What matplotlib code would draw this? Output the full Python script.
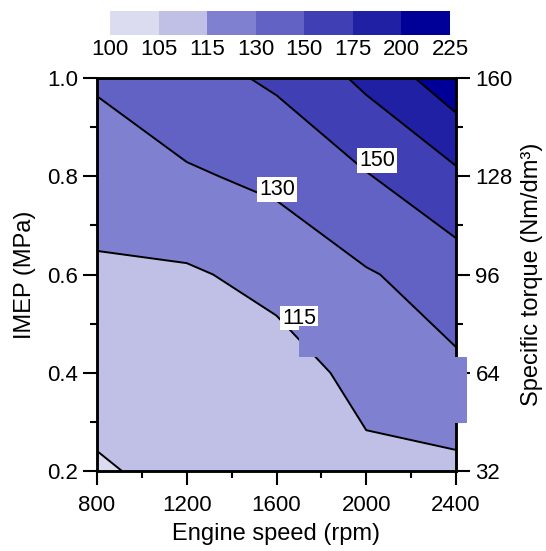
import matplotlib
matplotlib.use("Agg")
import matplotlib.pyplot as plt
from matplotlib.patches import Rectangle
from matplotlib.ticker import MultipleLocator
import numpy as np

plt.rcParams['font.family'] = ['Liberation Sans', 'DejaVu Sans']

# ---- data ----
speed = [800, 1200, 1600, 2000, 2400]          # rpm
imep = [0.2, 0.4, 0.6, 0.8, 1.0]               # MPa
# rows: imep, columns: speed
z_row_02 = [104.0, 107.6, 108.0, 112.3, 111.7]
z_row_04 = [108.9, 111.0, 109.3, 118.8, 127.1]
z_row_06 = [112.0, 113.3, 119.1, 128.5, 138.2]
z_row_08 = [124.5, 128.0, 133.6, 148.5, 170.1]
z_row_10 = [131.25, 141.8, 153.5, 180.5, 216.4]
levels = [100, 105, 115, 130, 150, 175, 200, 225]
band_colors = ['#DCDCF0', '#C0C0E6', '#8080D0', '#6262C4', '#4040B4', '#2020A5', '#000099']
line_labels = ['115', '130', '150']
label_pos_speed = [1700, 1602, 2048]
label_pos_imep = [0.511, 0.773, 0.832]
torque_ticks = [32, 64, 96, 128, 160]

Z = np.array([z_row_02, z_row_04, z_row_06, z_row_08, z_row_10])
X, Y = np.meshgrid(speed, imep)

W, H = 546, 551
fig = plt.figure(figsize=(W / 100, H / 100), dpi=100)
L, R, T, B = 97, 456, 78, 471
ax = fig.add_axes([L / W, 1 - B / H, (R - L) / W, (B - T) / H])

cf = ax.contourf(X, Y, Z, levels=levels, colors=band_colors)
ax.contour(X, Y, Z, levels=levels, colors='k', linewidths=1.4)

for t, xs, ys in zip(line_labels, label_pos_speed, label_pos_imep):
    ax.text(xs, ys, t, fontsize=15.5, ha='center', va='center', zorder=5,
            bbox=dict(facecolor='white', edgecolor='none', pad=1.2))

ax.set_xlim(800, 2400)
ax.set_ylim(0.2, 1.0)
ax.set_xticks([800, 1200, 1600, 2000, 2400])
ax.set_yticks([0.2, 0.4, 0.6, 0.8, 1.0])
ax.set_yticklabels(['0.2', '0.4', '0.6', '0.8', '1.0'])
ax.xaxis.set_minor_locator(MultipleLocator(200))
ax.yaxis.set_minor_locator(MultipleLocator(0.1))
ax.tick_params(axis='x', which='major', pad=7)
ax.tick_params(which='major', direction='out', length=10, width=1.5, labelsize=16)
ax.tick_params(which='minor', direction='out', length=5, width=1.5)
for s in ax.spines.values():
    s.set_linewidth(1.8)
ax.set_xlabel('Engine speed (rpm)', fontsize=17, labelpad=5)
ax.set_ylabel('IMEP (MPa)', fontsize=17, labelpad=8)

ax2 = ax.twinx()
ax2.set_ylim(32, 160)
ax2.set_yticks(torque_ticks)
ax2.yaxis.set_minor_locator(MultipleLocator(16))
ax2.tick_params(which='major', direction='out', length=10, width=1.5, labelsize=16, pad=4)
ax2.tick_params(which='minor', direction='out', length=5, width=1.5)
for s in ax2.spines.values():
    s.set_linewidth(1.8)
ax2.set_ylabel('Specific torque (Nm/dm³)', fontsize=17, labelpad=6)

# colorbar on top
cax = fig.add_axes([110 / W, 1 - 35 / H, 340 / W, 24 / H])
cb = fig.colorbar(cf, cax=cax, orientation='horizontal', spacing='uniform')
cb.set_ticks(levels)
cb.set_ticklabels([str(v) for v in levels])
cb.outline.set_visible(False)
cax.tick_params(length=0, labelsize=16, pad=3)

# raster artefacts of the original picture
for (x0, y0, x1, y1) in [(299, 326, 400, 357), (430, 357, 467, 423)]:
    fig.add_artist(Rectangle((x0 / W, 1 - y1 / H), (x1 - x0) / W, (y1 - y0) / H,
                             transform=fig.transFigure, facecolor=band_colors[2],
                             edgecolor='none', zorder=10))

fig.savefig('out.png', dpi=100)
